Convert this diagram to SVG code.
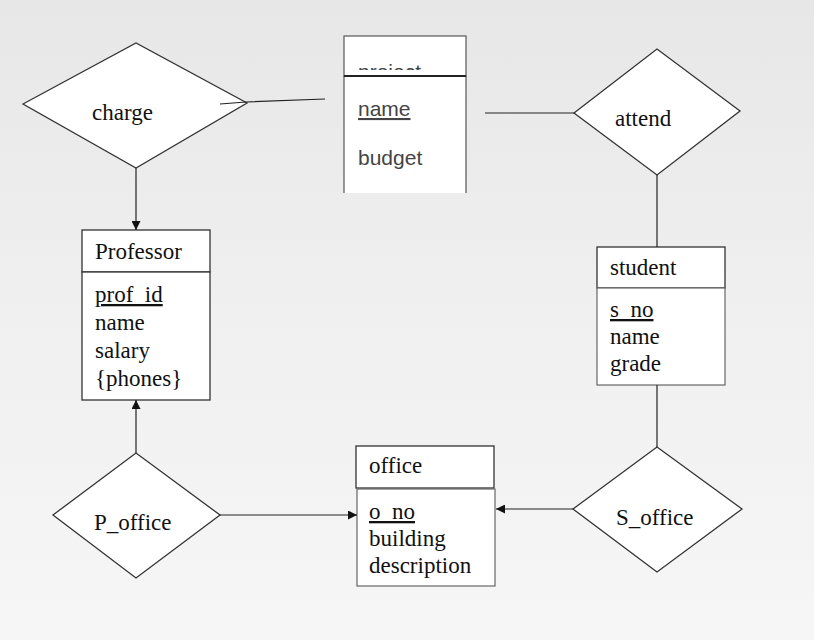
<svg xmlns="http://www.w3.org/2000/svg" width="814" height="640" viewBox="0 0 814 640">
<defs>
<linearGradient id="bg" x1="0" y1="0" x2="0" y2="1">
<stop offset="0" stop-color="#e7e7e7"/>
<stop offset="0.5" stop-color="#f0f0f0"/>
<stop offset="1" stop-color="#f6f6f6"/>
</linearGradient>
<marker id="arr" viewBox="0 0 10 10" refX="10" refY="5" markerWidth="9" markerHeight="9" markerUnits="userSpaceOnUse" orient="auto">
<path d="M0,0 L10,5 L0,10 z" fill="#111"/>
</marker>
<clipPath id="projclip"><rect x="344" y="36" width="122" height="34"/></clipPath>
<style>
.dia{fill:#fff;stroke:#333;stroke-width:1.3}
.box{fill:#fff;stroke:#333;stroke-width:1.3}
.boxl{fill:#fff;stroke:#666;stroke-width:1.2}
.line{fill:none;stroke:#222;stroke-width:1.2}
.serif{font-family:"Liberation Serif","Times New Roman",serif;font-size:23px;fill:#111}
.sans{font-family:"Liberation Sans",Arial,sans-serif;font-size:21px;fill:#444}
.u{text-decoration:underline}
</style>
</defs>
<rect x="0" y="0" width="814" height="640" fill="url(#bg)"/>

<g id="charge">
<polygon class="dia" points="23,104 136,43 247,103 136,168"/>
<text class="serif" x="92" y="120">charge</text>
</g>

<g id="project">
<rect x="344" y="36" width="122" height="40" fill="#fff" stroke="#555" stroke-width="1.2"/>
<rect x="344" y="76" width="122" height="117" fill="#fff"/>
<path d="M344,76 V193 M466,76 V193" stroke="#555" stroke-width="1.2" fill="none"/>
<line x1="344" y1="76" x2="466" y2="76" stroke="#222" stroke-width="2"/>
<text class="sans" x="358" y="79" clip-path="url(#projclip)">project</text>
<text class="sans u" x="358" y="116">name</text>
<text class="sans" x="358" y="165">budget</text>
</g>

<g id="attend">
<polygon class="dia" points="574,113 657,49 740,111 657,175"/>
<text class="serif" x="615" y="126">attend</text>
</g>

<g id="professor">
<rect class="box" x="82" y="230" width="128" height="42"/>
<rect class="box" x="82" y="272" width="128" height="128"/>
<text class="serif" x="95" y="259">Professor</text>
<text class="serif u" x="95" y="302">prof_id</text>
<text class="serif" x="95" y="330">name</text>
<text class="serif" x="95" y="358">salary</text>
<text class="serif" x="95" y="386">{phones}</text>
</g>

<g id="student">
<rect class="box" x="597" y="247" width="128" height="41"/>
<rect class="boxl" x="597" y="288" width="128" height="97"/>
<text class="serif" x="610" y="275">student</text>
<text class="serif u" x="610" y="317">s_no</text>
<text class="serif" x="610" y="344">name</text>
<text class="serif" x="610" y="371">grade</text>
</g>

<g id="office">
<rect class="box" x="356" y="446" width="138" height="42"/>
<rect class="boxl" x="357" y="489" width="138" height="97"/>
<text class="serif" x="369" y="473">office</text>
<text class="serif u" x="369" y="519">o_no</text>
<text class="serif" x="369" y="546">building</text>
<text class="serif" x="369" y="573">description</text>
</g>

<g id="P_office">
<polygon class="dia" points="53,515 136,453 220,515 136,578"/>
<text class="serif" x="94" y="530">P_office</text>
</g>

<g id="S_office">
<polygon class="dia" points="573,509 657,447 742,509 657,572"/>
<text class="serif" x="616" y="525">S_office</text>
</g>

<g id="connectors">
<polyline class="line" points="220,104 246,102 325,99"/>
<line class="line" x1="485" y1="113" x2="574" y2="113"/>
<line class="line" x1="136" y1="168" x2="136" y2="230" marker-end="url(#arr)"/>
<line class="line" x1="657" y1="175" x2="657" y2="247" stroke="#555"/>
<line class="line" x1="657" y1="385" x2="657" y2="447" stroke="#555"/>
<line class="line" x1="136" y1="453" x2="136" y2="400" marker-end="url(#arr)"/>
<line class="line" x1="220" y1="515" x2="357" y2="515" marker-end="url(#arr)"/>
<line class="line" x1="573" y1="509" x2="496" y2="509" marker-end="url(#arr)"/>
</g>
</svg>
